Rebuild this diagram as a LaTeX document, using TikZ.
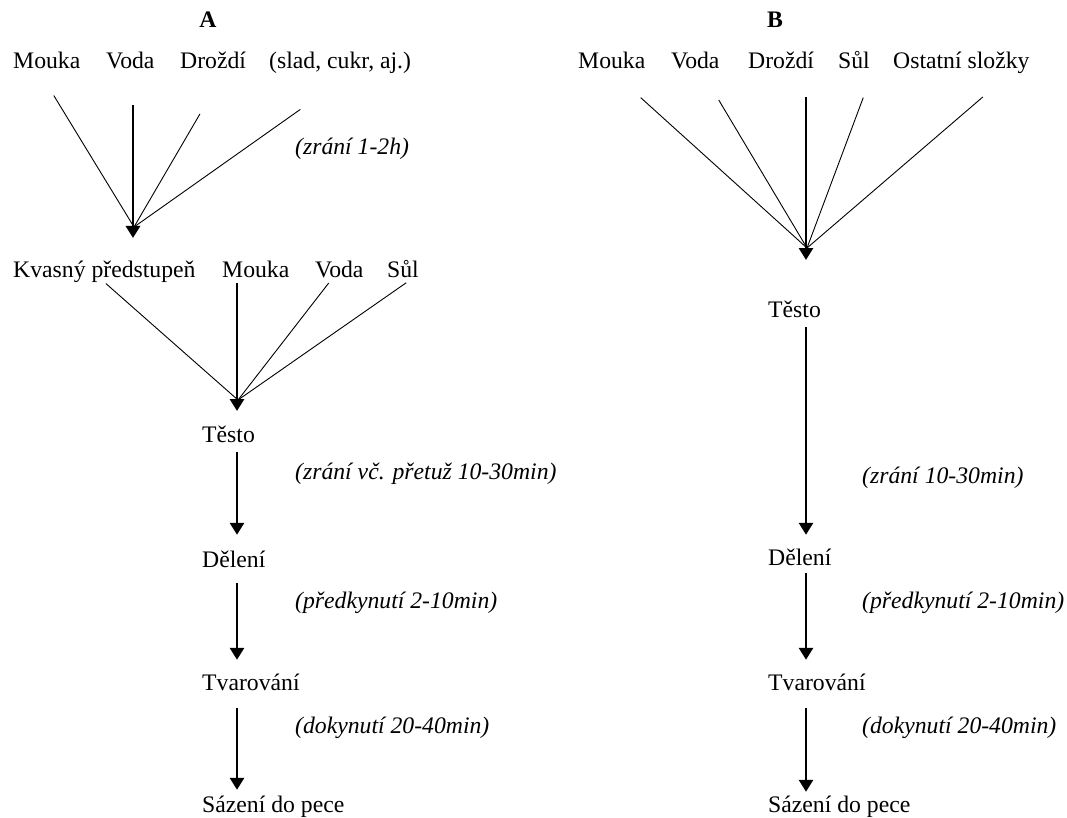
\documentclass[tikz,border=0pt]{standalone}
\usepackage{fontspec}
\setmainfont{Liberation Serif}
\usepackage{tikz}
\usetikzlibrary{arrows.meta, calc}
\tikzset{
  lbl/.style={inner sep=0pt, anchor=base west, text height=16pt, text depth=5pt, font=\fontsize{23.7}{28}\selectfont},
  hdr/.style={inner sep=0pt, anchor=base, font=\fontsize{23.7}{28}\selectfont\bfseries},
  note/.style={lbl, font=\fontsize{23.7}{28}\selectfont\itshape},
  feed/.style={line width=0.9pt, black},
  mainarr/.style={-{Triangle[width=14pt,length=12pt]}, line width=2.8pt, black},
}

\begin{document}
\begin{tikzpicture}[x=1pt, y=-1pt]
  \useasboundingbox (0,0) rectangle (1067,818);

  % Variant A
  \node[hdr] (hA) at (208,28) {A};
  \node[lbl] (a1) at (13,69) {Mouka};
  \node[lbl] (a2) at (106,69) {Voda};
  \node[lbl] (a3) at (180,69) {Droždí};
  \node[lbl] (a4) at (269,69) {(slad, cukr, aj.)};
  \coordinate (tA) at (133,238);
  \coordinate (mA) at (134,227);

  \foreach \n/\dx/\s in {a1/-6/25, a3/10/46, a4/10/61} {
    \draw[feed, shorten <=\s pt] ([xshift=\dx pt]\n.south) -- (mA);
  }
  \draw[mainarr, shorten <=31pt] (a2.south -| tA) -- (tA);
  \node[note] (nA1) at (295,155) {(zrání 1-2h)};

  \node[lbl] (b1) at (13,277) {Kvasný předstupeň};
  \node[lbl] (b2) at (222,277) {Mouka};
  \node[lbl] (b3) at (315,277) {Voda};
  \node[lbl] (b4) at (387,277) {Sůl};
  \coordinate (tA2) at (237,411);
  \coordinate (mA2) at (238,400);

  \foreach \n/\dx/\s in {b1/0/2, b3/-10/1, b4/4/1} {
    \draw[feed, shorten <=\s pt] ([xshift=\dx pt]\n.south) -- (mA2);
  }
  \draw[mainarr, shorten <=1pt] (b2.south -| tA2) -- (tA2);

  \node[lbl] (teA) at (202,442) {Těsto};
  \node[lbl] (deA) at (202,567) {Dělení};
  \node[lbl] (tvA) at (202,690) {Tvarování};
  \node[lbl] (saA) at (202,812) {Sázení do pece};
  \foreach \a/\b/\s/\e in {teA/deA/5/16, deA/tvA/11/14, tvA/saA/13/6} {
    \draw[mainarr, shorten <=\s pt, shorten >=\e pt] (tA2 |- \a.south) -- (tA2 |- \b.north);
  }
  \node[note] (nA2) at (295,479) {(zrání vč. přetuž 10-30min)};
  \node[note] (nA3) at (295,608) {(předkynutí 2-10min)};
  \node[note] (nA4) at (295,733) {(dokynutí 20-40min)};

  % Variant B
  \node[hdr] (hB) at (775,28) {B};
  \node[lbl] (c1) at (578,69) {Mouka};
  \node[lbl] (c2) at (671,69) {Voda};
  \node[lbl] (c3) at (748,69) {Droždí};
  \node[lbl] (c4) at (838,69) {Sůl};
  \node[lbl] (c5) at (893,69) {Ostatní složky};
  \coordinate (tB) at (806,260);
  \coordinate (mB) at (807,248);

  \foreach \n/\dx/\s in {c1/3/35, c2/8/30, c4/18/25, c5/48/35} {
    \draw[feed, shorten <=\s pt] ([xshift=\dx pt]\n.south) -- (mB);
  }
  \draw[mainarr, shorten <=23pt] (c3.south -| tB) -- (tB);

  \node[lbl] (teB) at (768,317) {Těsto};
  \node[lbl] (deB) at (768,565) {Dělení};
  \node[lbl] (tvB) at (768,690) {Tvarování};
  \node[lbl] (saB) at (768,812) {Sázení do pece};
  \foreach \a/\b/\s/\e in {teB/deB/5/14, deB/tvB/3/14, tvB/saB/13/4} {
    \draw[mainarr, shorten <=\s pt, shorten >=\e pt] (tB |- \a.south) -- (tB |- \b.north);
  }
  \node[note] (nB2) at (862,483) {(zrání 10-30min)};
  \node[note] (nB3) at (862,608) {(předkynutí 2-10min)};
  \node[note] (nB4) at (862,733) {(dokynutí 20-40min)};
\end{tikzpicture}
\end{document}
